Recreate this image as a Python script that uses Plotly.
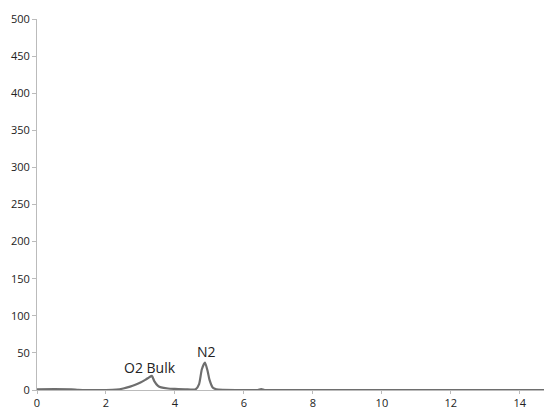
import plotly.graph_objects as go

time_min = [0, 0.5, 1.0, 1.2, 1.5, 2.0, 2.3, 2.5, 2.7, 2.85, 3.0, 3.15, 3.25, 3.33, 3.4, 3.5, 3.6, 3.8, 4.0, 4.3, 4.6, 4.7, 4.78, 4.87, 4.95, 5.0, 5.1, 5.2, 5.4, 6.0, 6.4, 6.5, 6.6, 7.0, 10.0, 14.7]
signal = [1, 1.2, 1, 0.3, 0, 0, 0.5, 2, 4.5, 7, 10, 14, 17, 19, 12, 6, 3.5, 2, 1.5, 1, 1, 8, 28, 37, 25, 14, 3, 1, 0.3, 0, 0, 1.2, 0, 0, 0, 0]

labels = ["O2 Bulk", "N2"]
label_x = [3.28, 4.9]
label_y = [31, 52]

x_ticks = [0, 2, 4, 6, 8, 10, 12, 14]
y_ticks = [0, 50, 100, 150, 200, 250, 300, 350, 400, 450, 500]

fig = go.Figure()
fig.add_trace(go.Scatter(x=time_min, y=signal, mode="lines",
                         line=dict(color="#6e6e6e", width=2.2, shape="spline", smoothing=0.6),
                         cliponaxis=False, showlegend=False))
for t, lx, ly in zip(labels, label_x, label_y):
    fig.add_annotation(x=lx, y=ly, text=t, showarrow=False,
                       font=dict(size=14, color="#222", family="Open Sans"))

fig.update_layout(
    width=544, height=411,
    margin=dict(l=37, r=0, t=19, b=21, pad=0),
    paper_bgcolor="white", plot_bgcolor="white",
    font=dict(family="Open Sans", size=11, color="#222"),
    xaxis=dict(range=[0, 14.7], tickvals=x_ticks, showgrid=False, zeroline=False,
               showline=True, linecolor="#bbbbbb", linewidth=1, automargin=False,
               ticks="outside", ticklen=3, tickcolor="#bbbbbb"),
    yaxis=dict(range=[0, 500], tickvals=y_ticks, showgrid=False, zeroline=False,
               showline=True, linecolor="#bbbbbb", linewidth=1, automargin=False,
               ticks="outside", ticklen=4, tickcolor="#bbbbbb"),
)
fig.write_html("out.html", config={"displayModeBar": False},
               post_script="document.body.style.margin='0';document.body.style.overflow='hidden';")
